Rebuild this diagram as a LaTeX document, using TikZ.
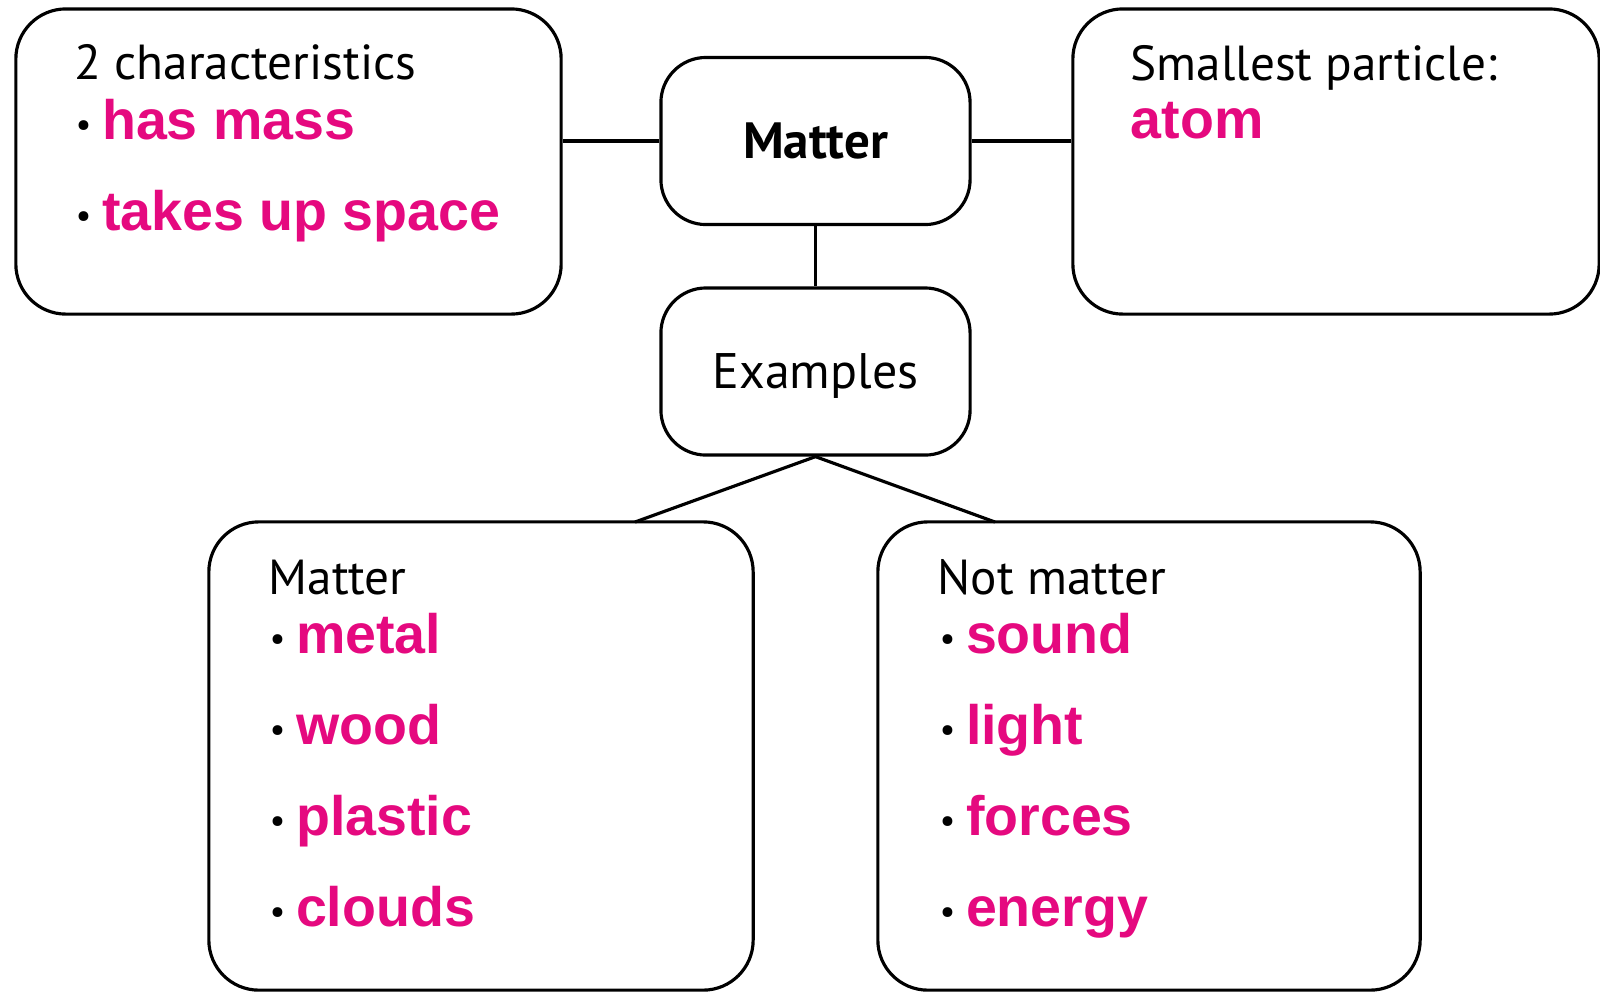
\documentclass[tikz,border=0pt]{standalone}
\usepackage{fontspec}
\setmainfont{PT Sans}
\newfontfamily\pinkfont{Liberation Sans}
\usetikzlibrary{calc}

\definecolor{pinktext}{HTML}{E5097F}
\newcommand{\pinkword}[1]{{\pinkfont\bfseries\fontsize{15.8}{19}\selectfont\color{pinktext}#1}}
\newcommand{\itm}[1]{\makebox[7.5pt][l]{\raisebox{0.8pt}{\fontsize{10}{12}\selectfont\textbullet}}\pinkword{#1}}

\begin{document}
\begin{tikzpicture}[x=0.01cm, y=-0.01cm,
    box/.style={draw, line width=0.9pt, rounded corners=5mm, inner sep=0pt},
    smallbox/.style={box, rounded corners=4.5mm, minimum width=3.09cm, minimum height=1.67cm,
      text depth=0pt, font=\fontsize{14.2}{17}\selectfont},
    lbl/.style={anchor=base west, inner sep=0pt, font=\fontsize{14}{17}\selectfont},
    link/.style={line width=0.9pt}]
  \useasboundingbox (0,0) rectangle (1600,993);

  % boxes
  \node[box, minimum width=5.45cm, minimum height=3.05cm] (chars) at (288.5,161.5) {};
  \node[smallbox, font=\fontsize{14.5}{17}\selectfont\bfseries] (matter) at (815.5,141) {Matter};
  \node[box, minimum width=5.26cm, minimum height=3.05cm] (particle) at (1336,161.5) {};
  \node[smallbox] (examples) at (815.5,371.5) {Examples};
  \node[box, minimum width=5.44cm, minimum height=4.68cm] (matterlist) at (481,756) {};
  \node[box, minimum width=5.42cm, minimum height=4.68cm] (notlist) at (1149,756) {};

  % connectors
  \coordinate (ml) at (635,522);
  \coordinate (nl) at (995,522);
  \draw[link] (matter.west) -- (matter.west -| chars.east);
  \draw[link] (matter.east) -- (matter.east -| particle.west);
  \draw[link] (matter.south) -- (examples.north);
  \draw[link] (ml) -- (examples.south) -- (nl);

  % texts
  \node[lbl] (charshead) at (74,79) {2 characteristics};
  \node[lbl] (mass) at (75,139) {\itm{has mass}};
  \node[lbl] (space) at (75,230) {\itm{takes up space}};
  \node[lbl] (particlehead) at (1130,80) {Smallest particle:};
  \node[lbl] (atom) at (1130,138) {\pinkword{atom}};

  \node[lbl] (mhead) at (268,594) {Matter};
  \foreach \w [count=\i] in {metal,wood,plastic,clouds}
    \node[lbl] (m\i) at (269,653+91*\i-91) {\itm{\w}};

  \node[lbl] (nhead) at (937,594) {Not matter};
  \foreach \w [count=\i] in {sound,light,forces,energy}
    \node[lbl] (n\i) at (939,653+91*\i-91) {\itm{\w}};
\end{tikzpicture}
\end{document}
